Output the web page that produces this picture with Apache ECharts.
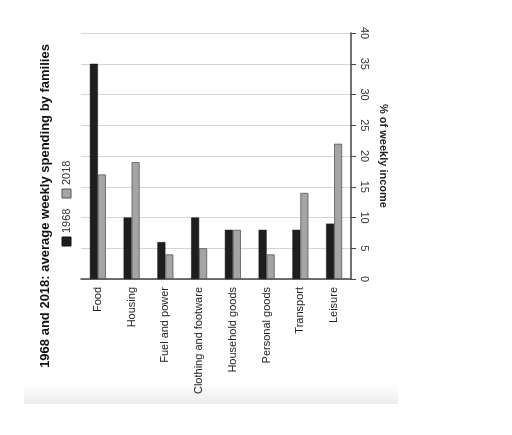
<!DOCTYPE html>
<html>
<head>
<meta charset="utf-8">
<script src="https://cdn.jsdelivr.net/npm/echarts@6/dist/echarts.min.js"></script>
<style>
  html, body { margin: 0; padding: 0; background: #fff; }
  #chart { width: 512px; height: 435px; }
</style>
</head>
<body>
<div id="chart"></div>
<script>
// 1968 vs 2018 weekly spending — drawn sideways like the scanned original
const categories = ["Food", "Housing", "Fuel and power", "Clothing and footware",
  "Household goods", "Personal goods", "Transport", "Leisure"];
const seriesNames = ["1968", "2018"];
const values1968 = [35, 10, 6, 10, 8, 8, 8, 9];
const values2018 = [17, 19, 4, 5, 8, 4, 14, 22];
const valueTicks = [0, 5, 10, 15, 20, 25, 30, 35, 40];

const TITLE = "1968 and 2018: average weekly spending by families";
const FONT = '"Liberation Sans", Arial, sans-serif';
const COLORS = { dark: "#1e1e1e", gray: "#a5a5a5", ink: "#222", grid: "#d4d4d4", axis: "#444" };

const chart = echarts.init(document.getElementById("chart"), null, { renderer: "canvas" });

chart.setOption({
  animation: false,
  textStyle: { fontFamily: FONT, color: COLORS.ink },
  grid: { left: 81, right: 161, top: 33, bottom: 156, containLabel: false },
  xAxis: {
    type: "category",
    data: categories,
    axisLine: { lineStyle: { color: COLORS.axis, width: 1.5 } },
    axisTick: { show: false },
    axisLabel: { rotate: 90, fontSize: 11, color: COLORS.ink, margin: 8 },
  },
  yAxis: {
    type: "value",
    position: "right",
    min: valueTicks[0],
    max: valueTicks[valueTicks.length - 1],
    interval: valueTicks[1] - valueTicks[0],
    name: "% of weekly income",
    nameLocation: "middle",
    nameRotate: -90,
    nameGap: 25,
    nameTextStyle: { fontSize: 11, fontWeight: "bold", color: COLORS.ink },
    axisLine: { show: true, lineStyle: { color: COLORS.axis, width: 1.5 } },
    axisTick: { show: true, inside: false, length: 5, lineStyle: { color: COLORS.axis } },
    axisLabel: { rotate: -90, fontSize: 11, color: "#333", margin: 8 },
    splitLine: { lineStyle: { color: COLORS.grid, width: 1 } },
  },
  series: [
    {
      name: seriesNames[0], type: "bar", data: values1968, barWidth: 8, barGap: "0%",
      itemStyle: { color: COLORS.dark, borderColor: "#111", borderWidth: 0.5 },
    },
    {
      name: seriesNames[1], type: "bar", data: values2018, barWidth: 8,
      itemStyle: { color: COLORS.gray, borderColor: "#555", borderWidth: 0.8 },
    },
  ],
  graphic: [
    // faint shadow strip under the scan
    {
      type: "rect", left: 24, top: 383, silent: true,
      shape: { width: 374, height: 21 },
      style: {
        fill: new echarts.graphic.LinearGradient(0, 0, 0, 1, [
          { offset: 0, color: "#ffffff" }, { offset: 1, color: "#ececec" },
        ]),
      },
    },
    {
      type: "text", x: 45, y: 206, rotation: Math.PI / 2,
      style: { text: TITLE, font: "bold 13px " + FONT, fill: "#111", align: "center", verticalAlign: "middle" },
    },
    // legend, turned with the page
    { type: "rect", x: 62, y: 237, shape: { width: 9, height: 9 }, style: { fill: COLORS.dark, stroke: "#111" } },
    {
      type: "text", x: 66.5, y: 233, rotation: Math.PI / 2,
      style: { text: seriesNames[0], font: "11px " + FONT, fill: "#333", align: "left", verticalAlign: "middle" },
    },
    { type: "rect", x: 62, y: 189, shape: { width: 9, height: 9 }, style: { fill: COLORS.gray, stroke: "#555" } },
    {
      type: "text", x: 66.5, y: 185, rotation: Math.PI / 2,
      style: { text: seriesNames[1], font: "11px " + FONT, fill: "#333", align: "left", verticalAlign: "middle" },
    },
  ],
});
</script>
</body>
</html>
